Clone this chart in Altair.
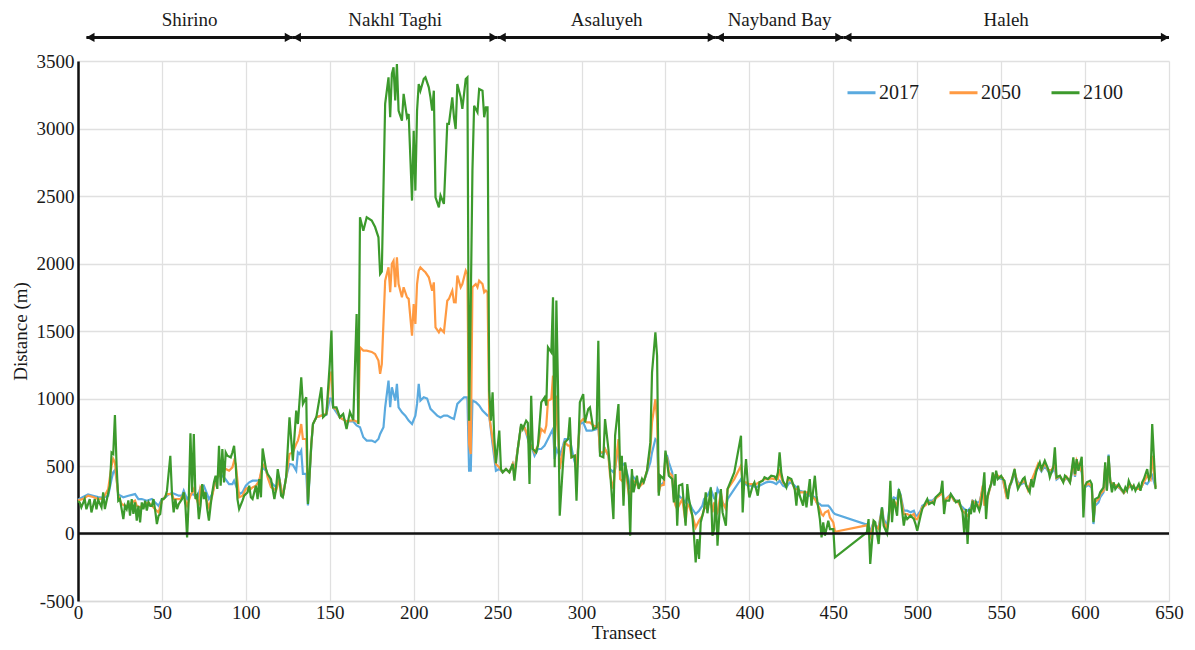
import altair as alt
import pandas as pd

# ---- data (transect, distance in m) ----
series_names = ["2017", "2050", "2100"]
series_colors = ["#5aaadf", "#ff9a42", "#3c9a2c"]

pts_2017 = [[0,250],[3,270],[6,290],[9,280],[12,270],[15,265],[18,280],[20,403],[21,453],[22,470],[23,400],[24,290],[27,268],[30,280],[34,292],[36,255],[38,255],[41,243],[44,255],[46,230],[48,205],[50,255],[52,268],[54,290],[56,300],[58,290],[60,280],[62,280],[63,317],[65,255],[67,292],[69,290],[71,255],[73,342],[75,354],[77,290],[78,255],[80,292],[82,391],[84,428],[86,428],[88,400],[90,366],[92,366],[93,391],[96,292],[98,305],[100,354],[102,379],[104,391],[106,391],[108,391],[110,490],[112,465],[114,391],[116,366],[118,342],[120,403],[122,268],[124,416],[126,515],[128,510],[130,466],[131,601],[132,589],[133,614],[134,441],[136,441],[137,207],[139,650],[140,811],[142,861],[145,873],[148,880],[150,1000],[151,1000],[152,935],[154,898],[156,860],[160,830],[164,830],[166,800],[168,787],[170,713],[172,688],[175,688],[177,676],[179,700],[180,737],[182,787],[183,935],[185,1132],[186,935],[187,1083],[189,985],[190,1108],[191,935],[193,898],[195,873],[197,836],[199,811],[201,873],[202,960],[203,1108],[204,985],[206,1009],[208,1000],[210,923],[212,898],[214,873],[216,860],[218,873],[220,873],[222,860],[224,848],[226,960],[228,985],[230,1009],[232,1009],[233,466],[234,466],[235,985],[237,973],[239,948],[241,910],[244,873],[245,873],[247,660],[249,465],[251,478],[253,453],[255,478],[257,453],[259,515],[260,453],[262,626],[264,799],[266,786],[268,700],[269,651],[270,651],[272,576],[274,626],[276,626],[278,651],[280,700],[282,750],[283,774],[284,552],[285,626],[287,576],[289,651],[290,700],[293,700],[295,576],[297,478],[299,811],[301,823],[303,762],[306,762],[309,774],[310,799],[311,601],[313,589],[314,626],[316,576],[317,478],[319,453],[320,478],[322,651],[323,502],[325,515],[326,502],[328,404],[329,330],[330,428],[333,391],[334,354],[337,379],[339,453],[341,527],[342,601],[344,700],[345,688],[346,330],[347,354],[349,379],[350,576],[351,576],[352,527],[354,453],[355,305],[356,280],[357,255],[358,280],[360,255],[362,230],[363,280],[364,230],[366,181],[368,144],[370,169],[372,206],[373,255],[375,280],[377,329],[379,260],[380,255],[381,329],[383,280],[384,230],[386,193],[387,255],[391,329],[395,403],[396,366],[398,366],[399,354],[402,354],[404,342],[406,354],[408,366],[410,379],[412,384],[414,379],[416,366],[418,391],[420,354],[422,342],[424,379],[426,366],[428,342],[430,317],[433,305],[435,280],[437,280],[439,268],[440,231],[442,218],[443,206],[445,206],[447,206],[448,193],[450,156],[451,144],[469,70],[470,70],[472,20],[474,83],[475,58],[477,46],[479,194],[480,107],[482,58],[484,231],[486,268],[488,255],[489,317],[490,292],[492,169],[494,169],[496,157],[498,169],[499,132],[500,132],[502,169],[503,206],[505,218],[506,243],[509,243],[511,268],[513,280],[515,317],[516,231],[517,255],[520,292],[522,243],[524,243],[526,206],[527,194],[528,181],[530,169],[532,194],[533,243],[535,231],[537,230],[539,330],[540,231],[542,280],[545,404],[547,420],[549,410],[551,400],[553,292],[555,340],[558,440],[560,380],[562,365],[564,379],[566,330],[568,380],[570,430],[572,500],[574,460],[576,500],[578,460],[580,450],[582,478],[583,400],[585,420],[587,390],[589,410],[591,380],[593,500],[594,420],[595,520],[597,500],[598,450],[599,340],[600,342],[602,360],[604,340],[605,70],[606,206],[608,230],[609,268],[611,305],[612,478],[613,320],[614,584],[615,380],[617,350],[619,350],[621,330],[623,300],[625,330],[627,350],[629,340],[631,330],[633,330],[635,379],[637,366],[639,403],[640,428],[642,342]]

pts_2050 = [[0,245],[3,255],[6,280],[9,270],[12,255],[15,260],[18,330],[20,502],[21,552],[22,527],[23,400],[24,280],[26,218],[28,205],[30,205],[32,230],[34,243],[35,205],[37,193],[38,205],[40,218],[42,230],[44,205],[46,180],[48,156],[50,243],[53,292],[56,292],[57,255],[59,255],[61,255],[63,292],[64,243],[65,206],[67,280],[69,330],[70,280],[72,206],[73,342],[75,305],[78,193],[80,280],[82,403],[84,428],[86,478],[88,478],[90,465],[92,490],[93,539],[94,515],[96,268],[98,280],[100,330],[102,342],[103,330],[104,342],[106,354],[108,391],[110,515],[112,477],[113,416],[115,342],[117,329],[118,317],[120,403],[122,268],[124,416],[126,589],[128,600],[130,663],[131,688],[132,737],[133,811],[134,700],[136,700],[137,240],[139,663],[140,811],[142,861],[145,873],[148,886],[150,1150],[151,1200],[152,935],[154,920],[156,860],[160,830],[164,840],[166,830],[167,820],[168,1379],[170,1355],[172,1355],[175,1345],[177,1330],[179,1281],[180,1182],[181,1255],[183,1873],[185,1972],[186,1787],[187,1997],[188,2021],[189,1824],[190,2046],[191,1848],[193,1750],[194,1824],[196,1750],[197,1738],[199,1466],[200,1700],[201,1552],[202,1848],[203,1947],[204,1972],[206,1947],[207,1935],[209,1898],[210,1848],[211,1799],[212,1860],[213,1527],[215,1490],[216,1515],[218,1490],[220,1725],[221,1738],[223,1799],[224,1713],[225,1712],[226,1910],[228,1824],[229,1848],[231,1947],[232,1922],[233,663],[234,589],[235,1824],[237,1848],[238,1824],[239,1873],[241,1848],[242,1787],[243,1799],[244,1787],[245,873],[247,700],[249,515],[251,490],[253,453],[255,478],[257,453],[259,515],[260,453],[262,626],[264,799],[266,786],[268,720],[269,651],[270,651],[272,601],[274,651],[276,774],[278,750],[279,799],[280,984],[282,996],[283,1169],[284,626],[285,1021],[287,478],[289,626],[290,675],[292,651],[293,651],[294,564],[296,576],[297,478],[299,823],[301,848],[303,823],[305,823],[307,800],[309,790],[310,810],[311,601],[313,601],[314,626],[316,576],[317,428],[319,330],[320,478],[322,700],[323,404],[325,379],[326,480],[328,305],[329,231],[330,400],[333,367],[334,340],[337,379],[339,465],[341,626],[342,823],[344,996],[345,848],[346,305],[347,354],[349,360],[350,576],[351,560],[352,453],[354,428],[355,256],[356,206],[357,181],[358,206],[360,255],[362,82],[363,218],[364,206],[366,132],[368,45],[369,70],[370,95],[372,132],[373,181],[375,206],[377,230],[378,156],[379,230],[380,132],[381,156],[383,305],[384,230],[386,181],[387,329],[391,403],[395,502],[396,379],[398,379],[399,366],[402,366],[404,366],[406,379],[409,403],[411,403],[413,408],[415,403],[417,403],[418,477],[419,416],[420,379],[422,354],[423,403],[425,391],[427,329],[429,329],[430,305],[433,305],[435,305],[437,280],[439,255],[440,231],[442,181],[443,144],[444,132],[445,156],[447,169],[448,119],[450,82],[451,13],[469,58],[470,63],[472,-20],[474,83],[475,58],[477,33],[479,181],[480,83],[482,33],[484,206],[486,243],[488,206],[489,292],[490,280],[492,144],[494,144],[496,132],[498,144],[499,107],[500,107],[502,157],[503,194],[505,210],[506,230],[509,231],[511,260],[513,280],[515,300],[516,206],[517,255],[520,285],[522,243],[524,240],[526,194],[527,169],[528,157],[530,132],[532,169],[533,240],[535,220],[537,200],[539,354],[540,206],[542,270],[545,416],[547,440],[549,420],[551,410],[553,280],[555,345],[558,460],[560,360],[562,375],[564,391],[566,320],[568,390],[570,450],[572,515],[574,470],[576,520],[578,470],[580,470],[582,515],[583,410],[585,425],[587,385],[589,420],[591,380],[593,530],[594,430],[595,540],[597,480],[598,540],[599,329],[600,354],[602,370],[604,350],[605,95],[606,231],[608,255],[609,292],[611,317],[612,502],[613,320],[614,564],[615,385],[617,360],[619,355],[621,335],[623,300],[625,330],[627,360],[629,345],[631,330],[633,330],[635,379],[637,428],[639,400],[640,576],[642,340]]

pts_2100 = [[0,240],[1,231],[2,194],[4,255],[5,180],[7,255],[8,156],[10,255],[11,180],[12,250],[14,194],[15,305],[16,181],[18,300],[19,354],[20,600],[21,589],[22,877],[23,502],[24,243],[25,255],[26,181],[27,107],[28,205],[29,180],[30,245],[31,132],[32,255],[33,145],[34,230],[35,95],[36,205],[37,82],[38,230],[39,180],[40,243],[41,170],[42,230],[43,205],[44,205],[45,255],[46,169],[47,70],[48,132],[49,145],[50,255],[51,255],[52,268],[53,317],[55,576],[56,292],[57,156],[58,255],[59,181],[60,218],[62,255],[63,305],[64,206],[65,-29],[66,255],[67,742],[68,305],[69,737],[70,255],[71,280],[72,107],[73,206],[74,366],[75,255],[76,305],[77,181],[78,95],[79,206],[80,305],[81,379],[82,428],[83,330],[84,650],[85,354],[86,626],[87,379],[88,601],[89,576],[91,564],[92,601],[93,650],[94,502],[95,255],[96,181],[98,243],[99,280],[101,305],[102,354],[103,268],[104,255],[106,354],[107,255],[108,403],[109,268],[110,630],[112,477],[113,440],[115,403],[116,330],[117,255],[118,329],[119,477],[120,403],[121,280],[122,268],[124,416],[126,861],[128,540],[130,910],[131,811],[133,1157],[134,960],[136,1009],[137,219],[139,663],[140,811],[142,861],[145,1083],[146,861],[148,886],[150,1256],[151,1503],[152,935],[154,935],[156,860],[158,885],[160,774],[162,900],[164,840],[166,1626],[167,811],[168,2342],[170,2243],[172,2342],[175,2318],[177,2270],[179,2194],[180,1922],[181,1940],[183,3182],[185,3379],[186,3083],[187,3404],[188,3453],[189,3207],[190,3478],[191,3132],[193,3058],[194,3256],[196,3083],[197,3108],[199,2466],[200,2984],[201,2540],[202,3132],[203,3330],[204,3280],[206,3367],[207,3379],[209,3305],[210,3231],[211,3132],[212,3280],[213,2490],[215,2416],[216,2503],[218,2441],[220,3034],[221,3034],[223,3231],[224,3083],[225,2996],[226,3330],[228,3231],[229,3145],[231,3367],[232,3379],[233,836],[234,1700],[235,2688],[236,3169],[238,3120],[239,3293],[241,3280],[242,3083],[243,3157],[244,3157],[245,1058],[246,836],[247,1046],[248,713],[249,520],[251,762],[252,478],[253,453],[255,478],[257,453],[259,515],[260,391],[262,626],[264,811],[265,774],[267,836],[268,820],[269,367],[270,1021],[271,626],[273,601],[274,651],[276,972],[278,1009],[279,947],[280,1379],[282,1342],[283,1749],[284,490],[285,1725],[286,1070],[287,132],[289,527],[290,675],[292,700],[293,860],[294,564],[296,576],[297,243],[299,972],[301,1033],[302,823],[304,922],[305,935],[307,774],[309,786],[310,1428],[311,576],[313,564],[314,848],[316,626],[317,465],[319,107],[320,725],[322,959],[323,465],[324,576],[325,206],[326,527],[328,354],[329,-16],[330,478],[331,305],[333,428],[334,330],[336,404],[337,379],[339,465],[341,675],[342,1194],[344,1490],[345,1317],[346,280],[347,428],[349,404],[350,614],[351,527],[352,428],[354,404],[355,231],[356,440],[357,58],[358,354],[360,366],[362,58],[363,366],[364,255],[366,132],[367,-16],[368,-214],[369,-41],[370,-189],[371,82],[373,181],[374,305],[375,150],[377,342],[378,-16],[379,33],[380,305],[381,-90],[383,329],[384,156],[386,58],[387,329],[391,453],[395,724],[396,156],[397,403],[398,551],[399,379],[400,268],[402,354],[403,379],[405,280],[406,379],[408,391],[409,416],[411,403],[413,428],[415,423],[416,403],[417,453],[418,601],[419,453],[420,391],[422,342],[423,416],[425,403],[427,329],[428,206],[429,354],[430,280],[432,206],[433,318],[434,193],[436,403],[437,206],[439,428],[440,280],[442,107],[443,-29],[444,82],[445,-16],[447,95],[448,33],[450,33],[451,-177],[470,8],[471,107],[472,-226],[474,95],[475,83],[477,-78],[478,83],[479,194],[480,58],[482,0],[483,107],[484,391],[485,83],[486,255],[488,132],[489,330],[490,280],[492,58],[493,132],[494,107],[496,132],[498,107],[499,70],[500,21],[502,132],[503,181],[505,231],[506,255],[507,218],[509,231],[510,218],[511,268],[513,292],[514,305],[515,391],[516,144],[517,243],[519,243],[520,292],[522,255],[523,231],[525,243],[526,194],[527,157],[528,0],[529,181],[530,-78],[531,181],[532,144],[533,243],[534,157],[535,231],[537,169],[538,218],[539,317],[540,453],[541,107],[542,280],[543,330],[544,366],[545,453],[546,354],[547,465],[548,404],[550,428],[551,404],[552,391],[554,255],[555,354],[556,379],[558,478],[559,391],[560,330],[562,379],[563,404],[564,416],[565,354],[567,305],[568,403],[569,342],[571,465],[573,527],[574,477],[576,539],[578,477],[579,416],[581,490],[582,638],[583,416],[585,428],[586,403],[587,379],[588,428],[590,403],[591,379],[592,465],[593,564],[594,440],[595,551],[596,465],[598,569],[599,119],[600,354],[601,379],[603,391],[604,366],[605,83],[606,255],[608,268],[609,305],[611,342],[612,527],[613,317],[614,576],[615,391],[616,305],[617,379],[618,329],[620,366],[621,342],[623,305],[624,342],[625,317],[626,391],[628,329],[629,354],[630,317],[632,366],[633,317],[634,379],[635,403],[637,477],[638,403],[639,428],[640,811],[642,329]]

# coastal regions annotated above the plot (transect ranges)
region_names = ["Shirino", "Nakhl Taghi", "Asaluyeh", "Nayband Bay", "Haleh"]
region_start = [5, 128, 250, 380, 456]
region_end = [128, 250, 380, 456, 650]
arrow_level = 3675
label_level = 3803

x_ticks = list(range(0, 651, 50))
y_ticks = list(range(-500, 3501, 500))

# ---- build tables ----
rows = []
for name, pts in zip(series_names, [pts_2017, pts_2050, pts_2100]):
    for t, v in pts:
        rows.append({"Transect": t, "Distance": v, "Year": name})
df = pd.DataFrame(rows)

reg = pd.DataFrame({
    "name": region_names,
    "start": region_start,
    "end": region_end,
    "mid": [(a + b) / 2 for a, b in zip(region_start, region_end)],
    "arrow": [arrow_level] * len(region_names),
    "label": [label_level] * len(region_names),
})
zero_df = pd.DataFrame({"y": [0]})

FONT = "Liberation Serif"
TXT = "#1a1a1a"

xscale = alt.Scale(domain=[0, 650], nice=False, zero=False)
yscale = alt.Scale(domain=[-500, 3500], nice=False, zero=False)

x_axis = alt.Axis(values=x_ticks, title="Transect", labelExpr="'' + datum.value",
                  labelFontSize=19, titleFontSize=19, labelFont=FONT, titleFont=FONT,
                  labelColor=TXT, titleColor=TXT, titleFontWeight="normal", ticks=False,
                  labelFlush=False, labelPadding=2, titlePadding=1,
                  domainColor="#d9d9d9", domainWidth=1.5, gridColor="#e0e0e0",
                  gridWidth=1.3)
y_axis = alt.Axis(values=y_ticks, title="Distance (m)", labelExpr="'' + datum.value",
                  labelFontSize=19, titleFontSize=19, labelFont=FONT, titleFont=FONT,
                  labelColor=TXT, titleColor=TXT, titleFontWeight="normal", ticks=False,
                  labelFlush=False, labelPadding=4, titlePadding=6,
                  domainColor="#111111", domainWidth=2.5, gridColor="#e0e0e0",
                  gridWidth=1.3)

lines = alt.Chart(df).mark_line(strokeWidth=2.2).encode(
    x=alt.X("Transect:Q", scale=xscale, axis=x_axis),
    y=alt.Y("Distance:Q", scale=yscale, axis=y_axis),
    color=alt.Color("Year:N",
                    scale=alt.Scale(domain=series_names, range=series_colors),
                    legend=alt.Legend(orient="none", legendX=768, legendY=16,
                                      direction="horizontal", title=None,
                                      symbolType="stroke", symbolSize=784,
                                      symbolStrokeWidth=3, labelFontSize=20,
                                      labelFont=FONT, labelColor=TXT,
                                      labelOffset=2, columnPadding=24)),
    order=alt.Order("Transect:Q"),
)

zero_line = alt.Chart(zero_df).mark_rule(color="#111111", strokeWidth=2.5).encode(
    y=alt.Y("y:Q", scale=yscale, axis=y_axis)
)

arrows = alt.Chart(reg).mark_rule(color="#111111", strokeWidth=3).encode(
    x=alt.X("start:Q", scale=xscale, axis=x_axis),
    x2="end:Q",
    y=alt.Y("arrow:Q", scale=yscale, axis=y_axis),
)
heads_left = alt.Chart(reg).mark_point(shape="triangle-left", filled=True, size=90,
                                       color="#111111", opacity=1, xOffset=4).encode(
    x=alt.X("start:Q", scale=xscale, axis=x_axis),
    y=alt.Y("arrow:Q", scale=yscale, axis=y_axis),
)
heads_right = alt.Chart(reg).mark_point(shape="triangle-right", filled=True, size=90,
                                        color="#111111", opacity=1, xOffset=-4).encode(
    x=alt.X("end:Q", scale=xscale, axis=x_axis),
    y=alt.Y("arrow:Q", scale=yscale, axis=y_axis),
)
labels = alt.Chart(reg).mark_text(font=FONT, fontSize=19, color=TXT,
                                  baseline="middle", align="center").encode(
    x=alt.X("mid:Q", scale=xscale, axis=x_axis),
    y=alt.Y("label:Q", scale=yscale, axis=y_axis),
    text="name:N",
)

chart = alt.layer(lines, zero_line, arrows, heads_left, heads_right, labels).properties(
    width=1091, height=540,
    padding={"left": 3, "top": 3, "right": 0, "bottom": 0},
).configure_view(stroke=None).configure_axis(labelFont=FONT, titleFont=FONT)

chart.save("out.html", embed_options={"renderer": "svg", "actions": False})
